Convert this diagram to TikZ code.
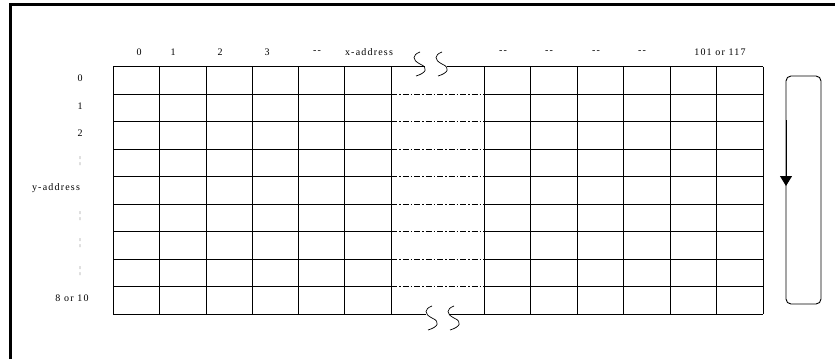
\documentclass[tikz,border=0pt]{standalone}
\usepackage{fontspec}
\usepackage{xcolor}
\usepackage{tikz}
\usetikzlibrary{arrows.meta}
\newfontfamily\lblfont{Liberation Serif}[LetterSpace=12,Ligatures=TeXOff]

\begin{document}
\begin{tikzpicture}[x=1pt,y=-1pt,font=\lblfont,
  gridline/.style={line width=0.7pt},
  gapline/.style={line width=0.6pt,dash pattern=on 6pt off 2pt on 1.5pt off 2pt},
  lbl/.style={inner sep=0pt}]
\useasboundingbox (0,0) rectangle (835,359);
\draw[line width=3pt] (10,359) -- (10,4) -- (835,4);

\foreach \i in {0,...,6} {
    \draw[gridline] ({113.3+46.3*\i},66.7) -- ++(0,247.5);
    \draw[gridline] ({484.3+46.5*\i},66.7) -- ++(0,247.5);
}
\foreach \j in {0,...,9} {
    \draw[gridline] (113.3,{66.7+27.5*\j}) -- (391,{66.7+27.5*\j});
    \draw[gridline] (484.3,{66.7+27.5*\j}) -- (763.3,{66.7+27.5*\j});
}
\foreach \j in {1,...,8}
    \draw[gapline] (391,{66.7+27.5*\j}) -- (484.3,{66.7+27.5*\j});

\draw[gridline] (391,66.7) -- (425,66.7);
\draw[gridline] (447,66.7) -- (484.3,66.7);
\draw[gridline] (391,314.2) -- (426,314.2);
\draw[gridline] (449,314.2) -- (484.3,314.2);
\foreach \sx/\sy in {420/52,442/52,432/306,454/306}
    \draw[line width=0.7pt] (\sx,\sy) .. controls (\sx-8,\sy+3) and (\sx-8,\sy+8) .. (\sx,\sy+12)
        .. controls (\sx+9,\sy+16) and (\sx+6,\sy+21) .. (\sx-4,\sy+24);

\foreach \x/\t [count=\i] in {139/0,173/1,220/2,267/3,317/--,369/x-address,503/--,549/--,596/--,642/--,720/101 or 117}
    \node[lbl] (xaddr\i) at (\x,52) {\t};

\foreach \x/\y/\t [count=\i] in {80/78/0,80/106/1,80/133/2,56/188/y-address,72/298/8 or 10}
    \node[lbl] (yaddr\i) at (\x,\y) {\t};
\foreach \y [count=\i] in {161,216,243,271}
    \node[lbl,text=gray] (ydots\i) at (80,\y) {¦};

\draw[line width=0.9pt,rounded corners=5pt] (786,76) rectangle (821,304);
\coordinate (loopstart) at (786,120);
\coordinate (looptip) at (786,186);
\draw[line width=0.9pt,-{Triangle[length=10pt,width=12pt]}] (loopstart) -- (looptip);
\end{tikzpicture}
\end{document}
